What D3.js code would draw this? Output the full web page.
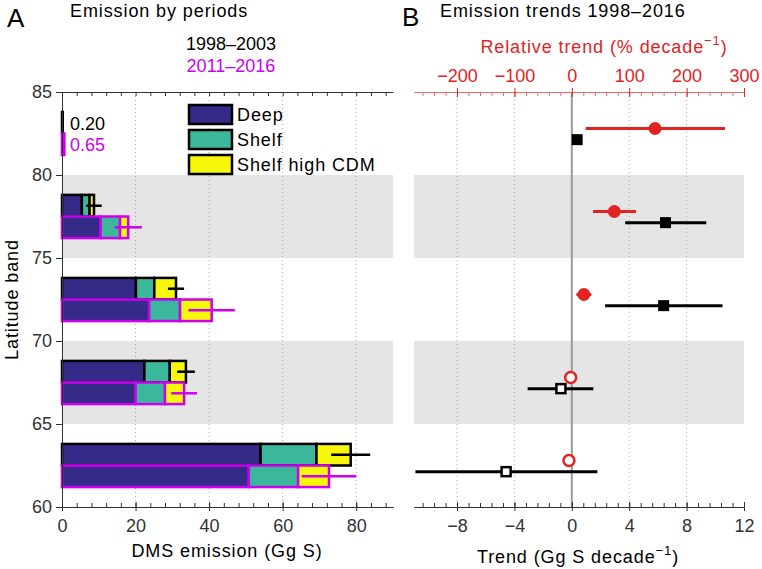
<!DOCTYPE html>
<html>
<head>
<meta charset="utf-8">
<title>DMS emission by latitude band</title>
<script src="https://d3js.org/d3.v7.min.js"></script>
<style>
  body { margin: 0; background: #fff; }
  text { font-family: "Liberation Sans", Arial, Helvetica, sans-serif; }
  .lbl { font-size: 18px; letter-spacing: 0.9px; }
  .num { font-size: 18px; }
</style>
</head>
<body>
<script>
// latitude bands (lower edge) and their centres
var bandLow = [60, 65, 70, 75, 80];
var bandMid = [62.5, 67.5, 72.5, 77.5, 82.5];
var shadedBands = [65, 75];

// panel A: emission by period (Gg S), stacked: deep, shelf, shelf high CDM
var periods = ["1998\u20132003", "2011\u20132016"];
var p1Deep  = [54.0, 22.4, 20.1, 5.4, 0.20];
var p1Shelf = [15.2, 6.9, 5.0, 2.1, 0];
var p1Cdm   = [9.3, 4.4, 5.9, 1.2, 0];
var p1Err   = [5.3, 2.4, 2.2, 2.1, 0];
var p2Deep  = [50.8, 20.0, 23.7, 10.5, 0.65];
var p2Shelf = [13.4, 8.0, 8.4, 5.3, 0];
var p2Cdm   = [8.4, 5.2, 8.6, 2.2, 0];
var p2Err   = [7.4, 3.5, 6.3, 3.7, 0];
var smallLabels = ["0.20", "0.65"];

// panel B: trends 1998-2016
var absTrend = [-4.58, -0.76, 6.4, 6.53, 0.37];
var absLo    = [-10.9, -3.08, 2.32, 3.72, 0.37];
var absHi    = [1.78, 1.5, 10.5, 9.37, 0.37];
var absSig   = [false, false, true, true, true];
var relTrend = [-5, -2, 21, 74, 145];
var relLo    = [-5, -2, 8, 37, 24];
var relHi    = [-5, -2, 34, 112, 267];
var relSig   = [false, false, true, true, true];

var xTicksA = [0, 20, 40, 60, 80];
var yTicks = [60, 65, 70, 75, 80, 85];
var xTicksB = [-8, -4, 0, 4, 8, 12];
var xTicksR = [-200, -100, 0, 100, 200, 300];

var segNames = ["Deep", "Shelf", "Shelf high CDM"];
var segColors = ["#352a87", "#3bb89b", "#f7f70a"];
var periodColors = ["#000000", "#cc00ee"];
var red = "#e2231f";

var W = 762, H = 569;
var svg = d3.select("body").append("svg").attr("width", W).attr("height", H);

var yA = d3.scaleLinear().domain([60, 85]).range([507, 92]);
var xA = d3.scaleLinear().domain([0, 90]).range([62, 393]);
var xB = d3.scaleLinear().domain([-11, 12]).range([414, 744]);
var xR = d3.scaleLinear().domain([-275, 300]).range([414, 744]);

var minus = function(d) { return d < 0 ? "\u2212" + Math.abs(d) : d; };

// grey shading of alternate bands
shadedBands.forEach(function(b) {
  svg.append("rect").attr("x", xA(0)).attr("width", xA(90) - xA(0))
    .attr("y", yA(b + 5)).attr("height", yA(b) - yA(b + 5)).attr("fill", "#e5e5e5");
  svg.append("rect").attr("x", xB(-11)).attr("width", xB(12) - xB(-11))
    .attr("y", yA(b + 5)).attr("height", yA(b) - yA(b + 5)).attr("fill", "#e5e5e5");
});

// dotted grid
svg.selectAll(".gridA").data(xTicksA.slice(1)).enter().append("line")
  .attr("x1", function(d) { return xA(d); }).attr("x2", function(d) { return xA(d); })
  .attr("y1", yA(85)).attr("y2", yA(60))
  .attr("stroke", "#aaa").attr("stroke-width", 1).attr("stroke-dasharray", "1,3");
svg.selectAll(".gridB").data([-8, -4, 4, 8]).enter().append("line")
  .attr("x1", function(d) { return xB(d); }).attr("x2", function(d) { return xB(d); })
  .attr("y1", yA(85)).attr("y2", yA(60))
  .attr("stroke", "#aaa").attr("stroke-width", 1).attr("stroke-dasharray", "1,3");
svg.append("line").attr("x1", xB(0)).attr("x2", xB(0)).attr("y1", yA(85)).attr("y2", yA(60))
  .attr("stroke", "#9a9a9a").attr("stroke-width", 2);

// ---- panel A bars
var barH = yA(0) - yA(1.3);
var allData = [[p1Deep, p1Shelf, p1Cdm, p1Err], [p2Deep, p2Shelf, p2Cdm, p2Err]];
allData.forEach(function(pd, pi) {
  var g = svg.append("g");
  bandMid.forEach(function(m, i) {
    var top = pi == 0 ? yA(m + 1.3) : yA(m);
    var start = 0;
    for (var s = 0; s < 3; s++) {
      var v = pd[s][i];
      if (v <= 0) continue;
      g.append("rect").attr("x", xA(start)).attr("y", top)
        .attr("width", xA(start + v) - xA(start)).attr("height", barH)
        .attr("fill", segColors[s]).attr("stroke", periodColors[pi]).attr("stroke-width", 2.5);
      start += v;
    }
    if (pd[3][i] > 0) {
      g.append("line").attr("x1", xA(start - pd[3][i])).attr("x2", xA(start + pd[3][i]))
        .attr("y1", top + barH / 2).attr("y2", top + barH / 2)
        .attr("stroke", periodColors[pi]).attr("stroke-width", 2.5);
    }
  });
});
// labels for tiny values in the top band
svg.append("text").attr("class", "num").attr("x", 70).attr("y", yA(82.5 + 0.65) + 7)
  .attr("fill", periodColors[0]).text(smallLabels[0]);
svg.append("text").attr("class", "num").attr("x", 70).attr("y", yA(82.5 - 0.65) + 7)
  .attr("fill", periodColors[1]).text(smallLabels[1]);

// legend
segNames.forEach(function(n, i) {
  svg.append("rect").attr("x", 189).attr("y", 105 + i * 25).attr("width", 43).attr("height", 19)
    .attr("fill", segColors[i]).attr("stroke", "#000").attr("stroke-width", 2.5);
  svg.append("text").attr("class", "lbl").attr("x", 237).attr("y", 121 + i * 25).text(n);
});

// ---- panel A axes
function styleAxis(g, col) {
  g.selectAll("path").attr("stroke", col);
  g.selectAll("line").attr("stroke", col);
  g.selectAll("text").attr("fill", col).attr("font-size", 18)
    .attr("font-family", "'Liberation Sans', Arial, Helvetica, sans-serif");
}
var gyA = svg.append("g").attr("transform", "translate(" + xA(0) + ",0)")
  .call(d3.axisLeft(yA).tickValues(yTicks).tickSize(6).tickSizeOuter(0).tickPadding(4));
styleAxis(gyA, "#333");

var minorA = d3.range(0, 90.1, 4);
var gxAm = svg.append("g").attr("transform", "translate(0," + yA(60) + ")")
  .call(d3.axisTop(xA).tickValues(minorA).tickSize(4).tickSizeOuter(0).tickFormat(""));
styleAxis(gxAm, "#333");
var gxA = svg.append("g").attr("transform", "translate(0," + yA(60) + ")")
  .call(d3.axisBottom(xA).tickValues(xTicksA).tickSize(4).tickSizeOuter(0).tickPadding(8));
gxA.selectAll(".tick line").attr("y1", -5);
styleAxis(gxA, "#333");
var gxAt = svg.append("g").attr("transform", "translate(0," + yA(85) + ")")
  .call(d3.axisBottom(xA).tickValues(minorA).tickSize(4).tickSizeOuter(0).tickFormat(""));
styleAxis(gxAt, "#333");

// ---- panel B markers
var g2 = svg.append("g");
bandMid.forEach(function(m, i) {
  var yr = yA(m + 0.3), yb = yA(m - 0.37);
  g2.append("line").attr("x1", xR(relLo[i])).attr("x2", xR(relHi[i])).attr("y1", yr).attr("y2", yr)
    .attr("stroke", red).attr("stroke-width", 3);
  g2.append("line").attr("x1", xB(absLo[i])).attr("x2", xB(absHi[i])).attr("y1", yb).attr("y2", yb)
    .attr("stroke", "#000").attr("stroke-width", 3);
  if (relSig[i]) {
    g2.append("circle").attr("cx", xR(relTrend[i])).attr("cy", yr).attr("r", 6.5).attr("fill", red);
  } else {
    g2.append("circle").attr("cx", xR(relTrend[i])).attr("cy", yr).attr("r", 5.5)
      .attr("fill", "#fff").attr("stroke", red).attr("stroke-width", 2.5);
  }
  if (absSig[i]) {
    g2.append("rect").attr("x", xB(absTrend[i]) - 5.5).attr("y", yb - 5.5).attr("width", 11).attr("height", 11)
      .attr("fill", "#000");
  } else {
    g2.append("rect").attr("x", xB(absTrend[i]) - 4.5).attr("y", yb - 4.5).attr("width", 9).attr("height", 9)
      .attr("fill", "#fff").attr("stroke", "#000").attr("stroke-width", 2.5);
  }
});

// ---- panel B axes
var minorB = d3.range(-10.4, 12.01, 0.8);
var gxBm = svg.append("g").attr("transform", "translate(0," + yA(60) + ")")
  .call(d3.axisTop(xB).tickValues(minorB).tickSize(4).tickSizeOuter(0).tickFormat(""));
styleAxis(gxBm, "#333");
var gxB = svg.append("g").attr("transform", "translate(0," + yA(60) + ")")
  .call(d3.axisBottom(xB).tickValues(xTicksB).tickSize(4).tickSizeOuter(0).tickPadding(8)
    .tickFormat(minus));
gxB.selectAll(".tick line").attr("y1", -5);
styleAxis(gxB, "#333");

var minorR = d3.range(-260, 300.1, 20);
var gxRm = svg.append("g").attr("transform", "translate(0," + yA(85) + ")")
  .call(d3.axisBottom(xR).tickValues(minorR).tickSize(4).tickSizeOuter(0).tickFormat(""));
styleAxis(gxRm, "#e86a6a");
var gxR = svg.append("g").attr("transform", "translate(0," + yA(85) + ")")
  .call(d3.axisTop(xR).tickValues(xTicksR).tickSize(4).tickSizeOuter(0).tickPadding(6)
    .tickFormat(minus));
gxR.selectAll(".tick line").attr("y1", 5);
styleAxis(gxR, red);
gxR.selectAll("path").attr("stroke", "#e86a6a");

// ---- titles and labels
svg.append("text").attr("x", 7).attr("y", 27).attr("font-size", 26).text("A");
svg.append("text").attr("class", "lbl").attr("x", 70).attr("y", 17).text("Emission by periods");
svg.append("text").attr("class", "num").attr("x", 231).attr("y", 50).attr("text-anchor", "middle")
  .attr("fill", periodColors[0]).text(periods[0]);
svg.append("text").attr("class", "num").attr("x", 231).attr("y", 72).attr("text-anchor", "middle")
  .attr("fill", periodColors[1]).text(periods[1]);
svg.append("text").attr("x", 402).attr("y", 26).attr("font-size", 26).text("B");
svg.append("text").attr("class", "lbl").attr("x", 440).attr("y", 17).text("Emission trends 1998\u20132016");

var rt = svg.append("text").attr("class", "lbl").attr("x", 604).attr("y", 53)
  .attr("text-anchor", "middle").attr("fill", red);
rt.append("tspan").text("Relative trend (% decade");
rt.append("tspan").attr("dy", -8).attr("font-size", 13).text("\u22121");
rt.append("tspan").attr("dy", 8).text(")");

svg.append("text").attr("class", "lbl").attr("x", 227).attr("y", 557).attr("text-anchor", "middle")
  .text("DMS emission (Gg S)");
var bt = svg.append("text").attr("class", "lbl").attr("x", 578).attr("y", 563).attr("text-anchor", "middle");
bt.append("tspan").text("Trend (Gg S decade");
bt.append("tspan").attr("dy", -8).attr("font-size", 13).text("\u22121");
bt.append("tspan").attr("dy", 8).text(")");

svg.append("text").attr("class", "lbl").attr("transform", "translate(18," + yA(72.5) + ") rotate(-90)")
  .attr("text-anchor", "middle").text("Latitude band");
</script>
</body>
</html>
